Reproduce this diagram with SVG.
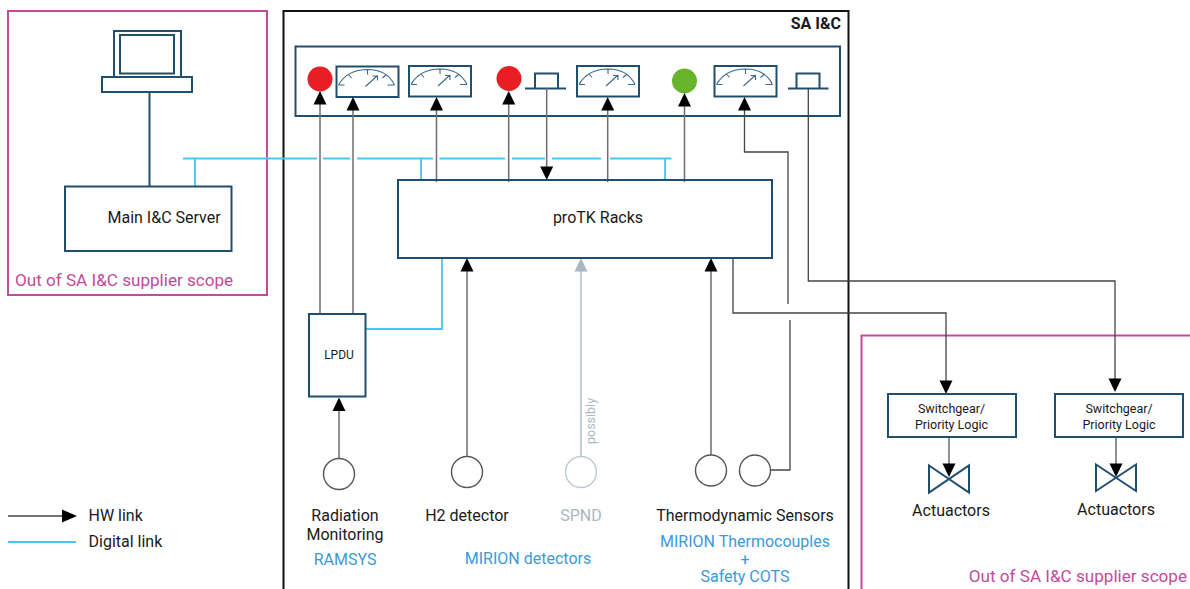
<svg xmlns="http://www.w3.org/2000/svg" xmlns:xlink="http://www.w3.org/1999/xlink" width="1190" height="589" viewBox="0 0 1190 589">
<style>
text{font-family:Roboto,"Liberation Sans",sans-serif;fill:#1a1a1a;font-size:16px}
.m{text-anchor:middle}
.s{fill:none;stroke:#1f4e6e;stroke-width:2}
.w{fill:#fff;stroke:#1f4e6e;stroke-width:2}
.pk{fill:none;stroke:#c24b9c;stroke-width:2}
.pkt{fill:#c24b9c;font-size:17.1px}
.bl{fill:#3a9ad9;font-size:16px}
.hw{fill:none;stroke:#6e6e6e;stroke-width:1.5}
.dk{fill:none;stroke:#444;stroke-width:1.3}
.dg{fill:none;stroke:#4cc4f0;stroke-width:1.8}
.gy{fill:none;stroke:#bcc9d1;stroke-width:1.8}
.c{fill:#fff;stroke:#555;stroke-width:1.4}
</style>
<defs>
<g id="gauge">
<rect x="0" y="0" width="62" height="30.5" class="w"/>
<path d="M2 18.5C8 8 18 3 31 3C44 3 53 8 58 18.5M2 18.5H8M12 8L15 11.5M31 3V8M50 8L46 11.5M51 18.5H58M29 20L41 9M36 9.5H41V14" fill="none" stroke="#3d6a88" stroke-width="1.1"/>
</g>
<path id="up" d="M0 0L-6.5 13.5H6.5Z" fill="#000"/>
<path id="dn" d="M0 0L-6.5 -13.5H6.5Z" fill="#000"/>
</defs>

<g id="scope-left"><rect x="8" y="11" width="259" height="284" class="pk"/><text x="15" y="286" class="pkt">Out of SA I&amp;C supplier scope</text></g>
<g id="sa-ic"><path d="M283.500 589V11H848.500V589" fill="none" stroke="#111" stroke-width="2"/><text x="841" y="29" text-anchor="end" style="font-weight:700;font-size:16px">SA I&amp;C</text></g>
<g id="scope-right"><path d="M861.500 589V335.500H1190" class="pk"/><text x="1187" y="582" text-anchor="end" class="pkt">Out of SA I&amp;C supplier scope</text></g>

<g id="panel">
<rect x="295.500" y="46.500" width="544.500" height="69.500" class="s"/>
<circle cx="320" cy="79" r="12.500" fill="#e81e25"/>
<use xlink:href="#gauge" href="#gauge" x="336.500" y="66.500"/>
<use xlink:href="#gauge" href="#gauge" x="409" y="66"/>
<circle cx="509" cy="78.500" r="12.500" fill="#e81e25"/>
<path d="M535 88V73.500H558V88M525 88.500H566" class="s"/>
<use xlink:href="#gauge" href="#gauge" x="577" y="66"/>
<circle cx="684.500" cy="81" r="12.500" fill="#6ab42d"/>
<use xlink:href="#gauge" href="#gauge" x="714.500" y="66"/>
<path d="M796.500 88V73.500H819.500V88M788 88.500H828.500" class="s"/>
</g>

<g id="connectors">
<path d="M183 158.500H317M323 158.500H350M357 158.500H433M439.500 158.500H505M512 158.500H545M552 158.500H601M610 158.500H671.500M195 158.500V186M421 158.500V180M665 158.500V180M366 329H442V258" class="dg"/>
<path d="M149.500 92V186" class="s"/>
<path d="M320 314V100M353 314V105M436.500 182V105M508.700 182V100M546.700 88V170M607.700 182V105M684.500 182V100M467 456V265M711 455V265M339 458V405M949 437V470M1116 437V470" class="hw"/>
<path d="M581 456V265" class="gy"/>
<path d="M744.500 105V152H788V304M790 320V470H771M733 258V313H946V385M808.300 88V281H1115V383" class="dk"/>
<use xlink:href="#up" href="#up" x="320" y="91"/>
<use xlink:href="#up" href="#up" x="353" y="97"/>
<use xlink:href="#up" href="#up" x="436.500" y="97"/>
<use xlink:href="#up" href="#up" x="508.700" y="91"/>
<use xlink:href="#dn" href="#dn" x="546.700" y="180"/>
<use xlink:href="#up" href="#up" x="607.700" y="97"/>
<use xlink:href="#up" href="#up" x="684.500" y="93"/>
<use xlink:href="#up" href="#up" x="744.500" y="97"/>
<use xlink:href="#up" href="#up" x="467" y="258"/>
<path d="M581 258L574.500 271.500H587.500Z" fill="#a9b8c2"/>
<use xlink:href="#up" href="#up" x="711" y="258"/>
<use xlink:href="#up" href="#up" x="339" y="397.500"/>
<use xlink:href="#dn" href="#dn" x="946" y="394"/>
<use xlink:href="#dn" href="#dn" x="1115" y="392"/>
<use xlink:href="#dn" href="#dn" x="949" y="477"/>
<use xlink:href="#dn" href="#dn" x="1116" y="477"/>
</g>

<g id="laptop"><rect x="114" y="31" width="67" height="46" class="w"/><rect x="120" y="35" width="54" height="38.500" class="w"/><rect x="102" y="77" width="90" height="15" class="w"/></g>
<g id="server"><rect x="65" y="186.500" width="166.500" height="64.500" class="s"/><text x="107.500" y="223">Main I&amp;C Server</text></g>
<g id="protk"><rect x="398" y="180" width="374" height="78" class="s"/><text x="598" y="223" class="m">proTK Racks</text></g>
<g id="lpdu"><rect x="309" y="314" width="56.500" height="82.500" class="s"/><text x="339" y="359" class="m" style="font-size:12px">LPDU</text></g>

<g id="radiation"><circle cx="339" cy="474" r="15.500" class="c"/><text x="345" y="521" class="m">Radiation</text><text x="345" y="540" class="m">Monitoring</text><text x="345" y="565" class="m bl">RAMSYS</text></g>
<g id="h2"><circle cx="467" cy="472" r="15.500" class="c"/><text x="467" y="521" class="m">H2 detector</text></g>
<g id="spnd"><circle cx="581" cy="472" r="15.500" fill="#fff" stroke="#bcc9d1" stroke-width="1.400"/><text x="581" y="521" class="m" style="fill:#a9b8c2">SPND</text><text transform="translate(595 444) rotate(-90)" style="fill:#a9b8c2;font-size:12.500px">possibly</text></g>
<text x="528" y="564" class="m bl">MIRION detectors</text>
<g id="thermo"><circle cx="711" cy="470.500" r="15.500" class="c"/><circle cx="755" cy="470.500" r="15.500" class="c"/><text x="745" y="521" class="m">Thermodynamic Sensors</text><text x="745" y="547" class="m bl">MIRION Thermocouples</text><text x="745" y="565" class="m bl">+</text><text x="745" y="582" class="m bl">Safety COTS</text></g>

<g id="sw1"><rect x="888" y="394" width="128" height="43" class="s"/><text x="951.500" y="413" class="m" style="font-size:12.500px">Switchgear/</text><text x="951.500" y="429" class="m" style="font-size:12.500px">Priority Logic</text></g>
<g id="sw2"><rect x="1055" y="394" width="128" height="43" class="s"/><text x="1119" y="413" class="m" style="font-size:12.500px">Switchgear/</text><text x="1119" y="429" class="m" style="font-size:12.500px">Priority Logic</text></g>
<g id="act1"><path d="M929 465.500L969 492.500V465.500L929 492.500Z" class="s"/><text x="951" y="516" class="m">Actuactors</text></g>
<g id="act2"><path d="M1096 464.500L1136 491V464.500L1096 491Z" class="s"/><text x="1116" y="515" class="m">Actuactors</text></g>

<g id="legend"><path d="M8 516H64" class="dk"/><path d="M77 516L62 509.500V522.500Z" fill="#000"/><text x="88.500" y="521">HW link</text><path d="M8 542H76" class="dg"/><text x="88.500" y="547">Digital link</text></g>
</svg>
